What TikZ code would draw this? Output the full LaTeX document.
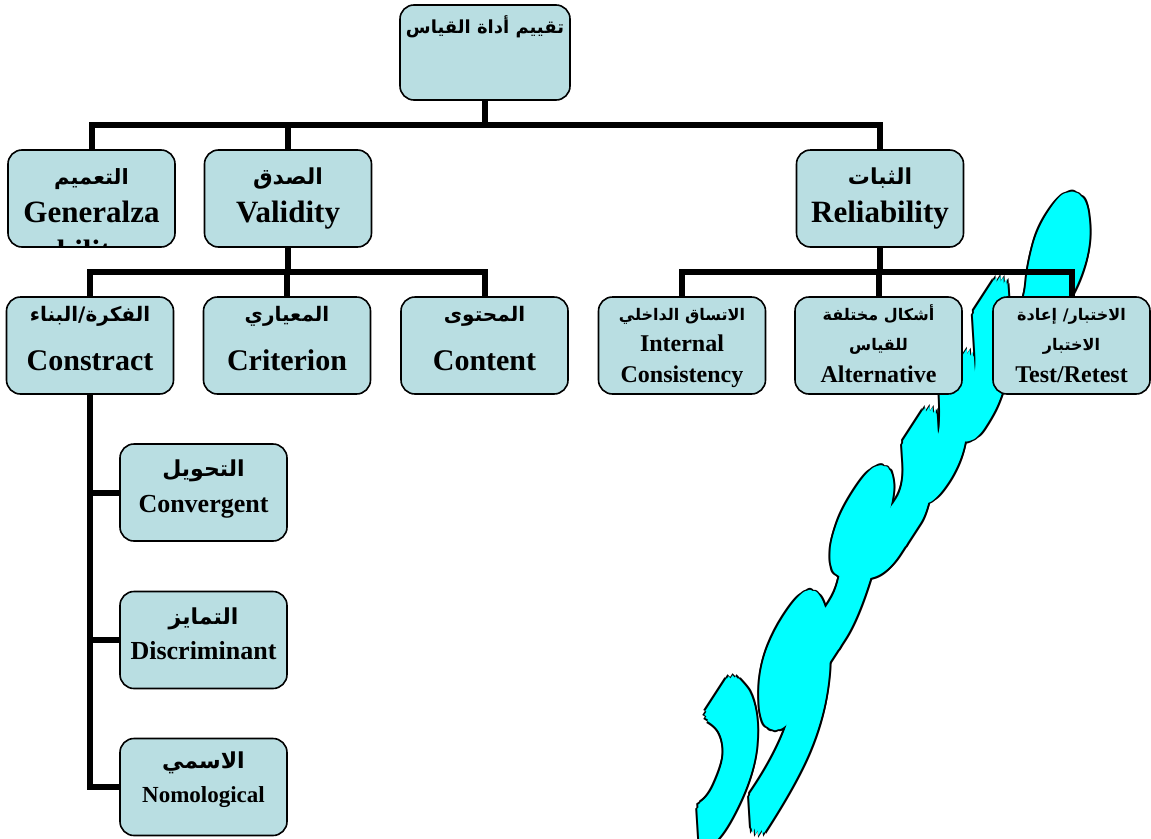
\documentclass[tikz,border=0pt]{standalone}
\usepackage{fontspec}
\setmainfont{Liberation Serif}
\newfontfamily\arabicfont[Script=Arabic]{DejaVu Sans}
\TeXXeTstate=1
\definecolor{boxfill}{RGB}{185,222,226}
\definecolor{wordcyan}{RGB}{0,255,255}
\newcommand\sigfont{\arabicfont\bfseries\fontsize{40}{40}\selectfont}
\newcommand\sigword{\beginR مسعود\endR}
\tikzset{
  box/.style={draw=black, line width=1.6pt, fill=boxfill, rounded corners=14pt,
    minimum width=167pt, minimum height=97pt, inner sep=0pt},
  link/.style={line width=6pt},
  ar/.style={font=\arabicfont\bfseries\fontsize{#1}{#1}\selectfont, anchor=base, inner sep=0pt},
  en/.style={font=\bfseries\fontsize{#1}{#1}\selectfont, anchor=base, inner sep=0pt},
  sig/.style={transform shape, inner sep=0pt, font=\sigfont},
  sigshape/.style={cm={2.95,4.55,-0.4,6.5,(0,0)}},
}
\begin{document}
\begin{tikzpicture}[x=1pt,y=-1pt]
\useasboundingbox (0,0) rectangle (1151,838);
\clip (0,0) rectangle (1151,838);
\fill[white] (0,0) rectangle (1151,838);

% signature lettering in the background: black rim, cyan body
\foreach \a in {0,30,...,330}{
  \begin{scope}[shift={({895+9*cos(\a)},{526+9*sin(\a)})}, sigshape]
    \node[sig, text=black] {\sigword};
  \end{scope}
}
\foreach \a in {0,30,...,330}{
  \begin{scope}[shift={({895+7*cos(\a)},{526+7*sin(\a)})}, sigshape]
    \node[sig, text=wordcyan] {\sigword};
  \end{scope}
}
\begin{scope}[shift={(895,526)}, sigshape]
  \node[sig, text=wordcyan] (sig) {\sigword};
\end{scope}

% positions
\coordinate (b1) at (485,125);
\coordinate (b2) at (288,272);
\coordinate (b3) at (880,272);

\path
  (485,52.5)   coordinate (ptop)
  (91.5,198.5) coordinate (pgen)
  (288,198.5)  coordinate (pval)
  (880,198.5)  coordinate (prel)
  (90,345.5)   coordinate (pcon)
  (287,345.5)  coordinate (pcri)
  (484.5,345.5) coordinate (pcnt)
  (682,345.5)  coordinate (pint)
  (878.5,345.5) coordinate (palt)
  (1071.5,345.5) coordinate (ptst)
  (203.5,492.5) coordinate (pconv)
  (203.5,640)  coordinate (pdisc)
  (203.5,787)  coordinate (pnom);

% anchors for the connectors
\node[box, draw=none, fill=none, minimum width=170pt, minimum height=95pt] (top) at (ptop) {};
\foreach \n/\p in {gen/pgen, val/pval, rel/prel, con/pcon, cri/pcri, cnt/pcnt, int/pint, alt/palt,
                   conv/pconv, disc/pdisc, nom/pnom}
  \node[box, draw=none, fill=none] (\n) at (\p) {};
\node[box, draw=none, fill=none, minimum width=157pt] (tst) at (ptst) {};

% connectors
\draw[link] (top.south) -- (b1);
\draw[link] (b1) -| (gen.north);
\draw[link] (b1) -| (val.north);
\draw[link] (b1) -| (rel.north);
\draw[link] (val.south) -- (b2);
\draw[link] (b2) -| (con.north);
\draw[link] (b2) -| (cri.north);
\draw[link] (b2) -| (cnt.north);
\draw[link] (rel.south) -- (b3);
\draw[link] (b3) -| (int.north);
\draw[link] (b3) -| (alt.north);
\draw[link] (b3) -| (tst.north);
\draw[link] (con.south) |- (nom.west);
\draw[link] (con.south) |- (conv.west);
\draw[link] (con.south) |- (disc.west);

% boxes drawn over the connectors
\node[box, minimum width=170pt, minimum height=95pt] at (ptop) {};
\foreach \p in {pgen, pval, prel, pcon, pcri, pcnt, pint, palt, pconv, pdisc, pnom}
  \node[box] at (\p) {};
\node[box, minimum width=157pt] at (ptst) {};

% labels
\node[ar=18] (ttop) at (485,33) {\beginR تقييم أداة القياس\endR};

\node[ar=21] (tgen1) at (91.5,184) {\beginR التعميم\endR};
\node[en=31] (tgen2) at (91.5,222) {Generalza};
\begin{scope}
  \clip (8,150) rectangle (175,246);
  \node[en=31] (tgen3) at (91.5,261) {bility};
\end{scope}
\node[ar=22] (tval1) at (288,184) {\beginR الصدق\endR};
\node[en=31] (tval2) at (288,222) {Validity};
\node[ar=22] (trel1) at (880,184) {\beginR الثبات\endR};
\node[en=31] (trel2) at (880,222) {Reliability};

\node[ar=20] (tcon1) at (90,321) {\beginR الفكرة/البناء\endR};
\node[en=30] (tcon2) at (90,370) {Constract};
\node[ar=20] (tcri1) at (287,321) {\beginR المعياري\endR};
\node[en=30] (tcri2) at (287,370) {Criterion};
\node[ar=20] (tcnt1) at (484.5,321) {\beginR المحتوى\endR};
\node[en=30] (tcnt2) at (484.5,370) {Content};

\node[ar=16] (tint1) at (682,320) {\beginR الاتساق الداخلي\endR};
\node[en=24] (tint2) at (682,351) {Internal};
\node[en=24] (tint3) at (682,382) {Consistency};
\node[ar=16] (talt1) at (878.5,320) {\beginR أشكال مختلفة\endR};
\node[ar=16] (talt2) at (878.5,350) {\beginR للقياس\endR};
\node[en=24] (talt3) at (878.5,382) {Alternative};
\node[ar=16] (ttst1) at (1071.5,320) {\beginR الاختبار/ إعادة\endR};
\node[ar=16] (ttst2) at (1071.5,350) {\beginR الاختبار\endR};
\node[en=24] (ttst3) at (1071.5,382) {Test/Retest};

\node[ar=22] (tconv1) at (203.5,476) {\beginR التحويل\endR};
\node[en=26] (tconv2) at (203.5,512) {Convergent};
\node[ar=22] (tdisc1) at (203.5,624) {\beginR التمايز\endR};
\node[en=26] (tdisc2) at (203.5,659) {Discriminant};
\node[ar=22] (tnom1) at (203.5,768) {\beginR الاسمي\endR};
\node[en=23] (tnom2) at (203.5,802) {Nomological};
\end{tikzpicture}
\end{document}
